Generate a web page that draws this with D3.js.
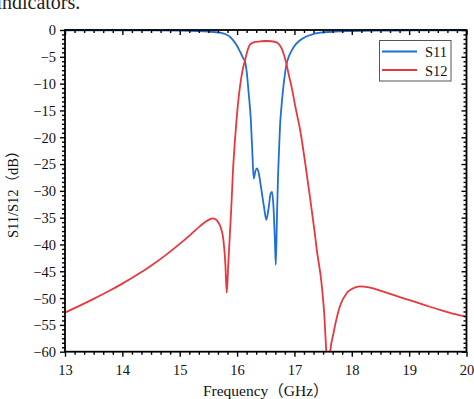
<!DOCTYPE html>
<html>
<head>
<meta charset="utf-8">
<script src="https://cdn.jsdelivr.net/npm/d3@7"></script>
<style>
  html, body { margin: 0; padding: 0; background: #fff; overflow: hidden; }
  svg { display: block; }
</style>
</head>
<body>
<svg id="chart" width="474" height="399"></svg>
<script>
// ---- data ----
const xTicks = [13, 14, 15, 16, 17, 18, 19, 20];
const yTicks = [0, -5, -10, -15, -20, -25, -30, -35, -40, -45, -50, -55, -60];

const s11Freq = [13.0, 14.0, 14.5, 15.0, 15.3, 15.5, 15.7, 15.8, 15.875, 15.93, 15.99, 16.05, 16.11, 16.14, 16.17, 16.2, 16.24, 16.265, 16.29, 16.32, 16.35, 16.38, 16.42, 16.47, 16.51, 16.55, 16.585, 16.61, 16.635, 16.66, 16.675, 16.695, 16.715, 16.735, 16.75, 16.775, 16.80, 16.83, 16.86, 16.9, 16.95, 17.0, 17.1, 17.2, 17.3, 17.45, 17.7, 18.0, 18.5, 19.0, 20.0];
const s11dB   = [-0.05, -0.06, -0.08, -0.12, -0.2, -0.3, -0.5, -0.8, -1.25, -1.9, -2.8, -4.0, -5.3, -5.9, -8.0, -11.5, -16.8, -22.5, -27.7, -26.3, -25.8, -26.8, -29.5, -33.0, -35.4, -33.2, -30.5, -30.2, -33.0, -39.5, -43.8, -35, -27, -21.5, -17.7, -14.2, -11.3, -8.6, -6.5, -5.0, -3.9, -3.0, -1.9, -1.25, -0.85, -0.5, -0.3, -0.2, -0.12, -0.08, -0.05];

const s12Freq = [13.0, 13.25, 13.5, 13.75, 14.0, 14.25, 14.5, 14.75, 15.0, 15.2, 15.35, 15.45, 15.52, 15.57, 15.63, 15.68, 15.72, 15.76, 15.795, 15.82, 15.845, 15.875, 15.9, 15.93, 15.96, 15.99, 16.05, 16.1, 16.14, 16.18, 16.22, 16.28, 16.34, 16.42, 16.51, 16.6, 16.69, 16.74, 16.78, 16.82, 16.86, 16.9, 16.95, 17.02, 17.10, 17.18, 17.27, 17.35, 17.39, 17.47, 17.52, 17.555, 17.59, 17.625, 17.68, 17.79, 17.91, 18.0, 18.14, 18.3, 18.55, 18.8, 19.01, 19.3, 19.54, 19.8, 20.0];
const s12dB   = [-52.7, -51.45, -50.15, -48.78, -47.3, -45.7, -43.95, -42.03, -39.9, -38.06, -36.62, -35.77, -35.33, -35.15, -35.35, -36.0, -37.0, -39.0, -43.5, -49.0, -44, -38, -33, -26, -21, -16.8, -10.6, -7.3, -5.6, -3.9, -2.8, -2.35, -2.2, -2.1, -2.05, -2.1, -2.3, -2.8, -3.5, -4.7, -6.3, -8.3, -10.6, -14.5, -18.7, -24.2, -31.1, -37.5, -41, -47, -53, -60, -68, -60, -56.6, -51.6, -49.1, -48.3, -47.8, -48.0, -48.8, -49.7, -50.4, -51.4, -52.2, -53.0, -53.5];

const seriesNames = ["S11", "S12"];
const seriesColors = ["#1f6fd6", "#e8383d"];

// ---- layout ----
const svg = d3.select("#chart");
const L = 65, R = 466.5, T = 30, B = 351.7;
const x = d3.scaleLinear().domain([13, 20]).range([L, R]);
const y = d3.scaleLinear().domain([-60, 0]).range([B, T]);
const fontSerif = "'Liberation Serif', 'Noto Sans CJK SC', serif";

// cut-off caption at top (as in the source)
svg.append("text").attr("x", -3.6).attr("y", 8.5)
  .attr("font-family", fontSerif).attr("font-size", 20).attr("fill", "#222")
  .text("indicators.");

// clip
svg.append("defs").append("clipPath").attr("id", "clip")
  .append("rect").attr("x", L).attr("y", T - 2).attr("width", R - L).attr("height", B - T + 2);

const line = d3.line().x(d => x(d[0])).y(d => y(d[1])).curve(d3.curveMonotoneX);

const series = [
  s11Freq.map((f, i) => [f, s11dB[i]]),
  s12Freq.map((f, i) => [f, s12dB[i]])
];

const g = svg.append("g").attr("clip-path", "url(#clip)");
series.forEach((s, i) => {
  g.append("path").datum(s).attr("d", line)
    .attr("fill", "none").attr("stroke", seriesColors[i]).attr("stroke-width", 1.8)
    .attr("stroke-linejoin", "round");
});

// minor ticks
function minors(ticks, n) {
  const out = [];
  for (let i = 0; i < ticks.length - 1; i++) {
    const a = ticks[i], b = ticks[i + 1];
    for (let k = 1; k < n; k++) out.push(a + (b - a) * k / n);
  }
  return out;
}
const xMinor = minors(xTicks, 6);
const yMinor = minors(yTicks, 6);

function styleAxis(sel) {
  sel.select(".domain").remove();
  sel.selectAll(".tick line").attr("stroke", "#000").attr("stroke-width", 1.4);
}

// bottom (ticks point down)
const gb = svg.append("g").attr("transform", `translate(0,${B})`)
  .call(d3.axisBottom(x).tickValues(xTicks).tickSize(5).tickFormat(d3.format("d")));
styleAxis(gb);
gb.selectAll(".tick text").attr("y", 13).attr("dy", "0.71em")
  .attr("font-family", fontSerif).attr("font-size", 14.5).attr("fill", "#111");
svg.append("g").attr("transform", `translate(0,${B})`)
  .call(d3.axisBottom(x).tickValues(xMinor).tickSize(3).tickFormat(""))
  .call(styleAxis);

// top (ticks point down, inside)
svg.append("g").attr("transform", `translate(0,${T})`)
  .call(d3.axisTop(x).tickValues(xTicks).tickSize(-5).tickFormat(""))
  .call(styleAxis);
svg.append("g").attr("transform", `translate(0,${T})`)
  .call(d3.axisTop(x).tickValues(xMinor).tickSize(-3).tickFormat(""))
  .call(styleAxis);

// left (ticks point left)
const gl = svg.append("g").attr("transform", `translate(${L},0)`)
  .call(d3.axisLeft(y).tickValues(yTicks).tickSize(5).tickFormat(d => d === 0 ? "0" : "\u2212" + Math.abs(d)));
styleAxis(gl);
gl.selectAll(".tick text").attr("x", -9).attr("dy", "0.34em")
  .attr("font-family", fontSerif).attr("font-size", 14.5).attr("fill", "#111");
svg.append("g").attr("transform", `translate(${L},0)`)
  .call(d3.axisLeft(y).tickValues(yMinor).tickSize(3).tickFormat(""))
  .call(styleAxis);

// right (ticks point left, inside)
svg.append("g").attr("transform", `translate(${R},0)`)
  .call(d3.axisRight(y).tickValues(yTicks).tickSize(-5).tickFormat(""))
  .call(styleAxis);
svg.append("g").attr("transform", `translate(${R},0)`)
  .call(d3.axisRight(y).tickValues(yMinor).tickSize(-3).tickFormat(""))
  .call(styleAxis);

// frame
svg.append("rect").attr("x", L).attr("y", T).attr("width", R - L).attr("height", B - T)
  .attr("fill", "none").attr("stroke", "#000").attr("stroke-width", 1.8);

// axis titles
svg.append("text").attr("x", (L + R) / 2).attr("y", 396).attr("text-anchor", "middle")
  .attr("font-family", fontSerif).attr("font-size", 15.5).attr("fill", "#111")
  .text("Frequency\uFF08GHz\uFF09");
svg.append("text").attr("transform", `translate(18,${(T + B) / 2}) rotate(-90)`)
  .attr("text-anchor", "middle")
  .attr("font-family", fontSerif).attr("font-size", 14.5).attr("fill", "#111")
  .text("S11/S12\uFF08dB\uFF09");

// legend
const lg = svg.append("g");
lg.append("rect").attr("x", 379.5).attr("y", 40.5).attr("width", 71.5).attr("height", 40.5)
  .attr("fill", "#fff").attr("stroke", "#555").attr("stroke-width", 1);
seriesNames.forEach((name, i) => {
  const yy = 51.5 + i * 18.5;
  lg.append("line").attr("x1", 382).attr("x2", 417).attr("y1", yy).attr("y2", yy)
    .attr("stroke", seriesColors[i]).attr("stroke-width", 1.8);
  lg.append("text").attr("x", 425).attr("y", yy + 5.5)
    .attr("font-family", fontSerif).attr("font-size", 14.5).attr("fill", "#111")
    .text(name);
});
</script>
</body>
</html>
